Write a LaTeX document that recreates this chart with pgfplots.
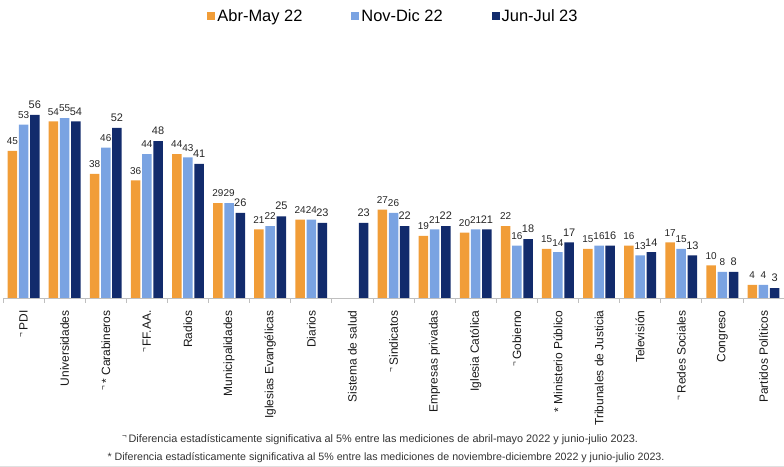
\documentclass[border=0pt]{standalone}
\usepackage{fontspec}
\setmainfont{Liberation Sans}
\usepackage{pgfplots}
\pgfplotsset{compat=1.18}
\definecolor{cOr}{RGB}{241,157,56}
\definecolor{cLb}{RGB}{122,163,226}
\definecolor{cNv}{RGB}{18,43,108}
\newcommand{\sig}{\raisebox{0.38em}{\fontsize{8}{8}\selectfont ¬}\,}

\begin{document}
\begin{tikzpicture}
\useasboundingbox (0,0) rectangle (784bp,467bp);
\begin{axis}[
    at={(3bp,169bp)}, anchor=south west,
    scale only axis, width=781bp, height=238bp,
    xmin=-0.5, xmax=18.5, ymin=0, ymax=72.8,
    ybar=1.7bp, bar width=9.5bp,
    axis x line=bottom, axis y line=none,
    x axis line style={-, draw=black!25, line width=0.8bp},
    xtick={0,...,18},
    minor xtick={-0.5,0.5,...,18.5},
    major x tick style={draw=none},
    minor x tick style={draw=black!25, line width=0.8bp},
    minor tick length=5bp, tick align=outside,
    xticklabels={\sig PDI, Universidades, \sig * Carabineros, \sig FF.AA., Radios,
        Municipalidades, Iglesias Evangélicas, Diarios, Sistema de salud, \sig Sindicatos,
        Empresas privadas, Iglesia Católica, \sig Gobierno, * Ministerio Público,
        Tribunales de Justicia, Televisión, \sig Redes Sociales, Congreso, Partidos Políticos},
    x tick label style={rotate=90, anchor=east, inner sep=0pt, font=\fontsize{12}{14}\selectfont, text=black!90},
    xticklabel shift=8bp,
    nodes near coords,
    every node near coord/.append style={font=\fontsize{10}{12}\selectfont, text=black!85, inner sep=0pt, yshift=6bp},
    /pgf/number format/assume math mode=true,
    legend style={at={(0.5,1)}, anchor=center, yshift=44bp, draw=none, fill=none,
        legend columns=3, font=\fontsize{16.5}{18}\selectfont,
        /tikz/every odd column/.append style={column sep=0bp},
        /tikz/every even column/.append style={column sep=47bp}},
    legend image code/.code={\fill[#1] (0bp,-4bp) rectangle (8bp,4bp);},
]
\addplot[fill=cOr, draw=none] coordinates {
    (0,45) (1,54) (2,38) (3,36) (4,44) (5,29) (6,21) (7,24)
    (9,27) (10,19) (11,20) (12,22) (13,15) (14,15) (15,16) (16,17) (17,10) (18,4)
};
\addplot[fill=cLb, draw=none] coordinates {
    (0,53) (1,55) (2,46) (3,44) (4,43) (5,29) (6,22) (7,24)
    (9,26) (10,21) (11,21) (12,16) (13,14) (14,16) (15,13) (16,15) (17,8) (18,4)
};
\addplot[fill=cNv, draw=none, every node near coord/.append style={font=\fontsize{11}{12}\selectfont}] coordinates {
    (0,56) (1,54) (2,52) (3,48) (4,41) (5,26) (6,25) (7,23) (8,23)
    (9,22) (10,22) (11,21) (12,18) (13,17) (14,16) (15,14) (16,13) (17,8) (18,3)
};
\legend{Abr-May 22, Nov-Dic 22, Jun-Jul 23}
\end{axis}
\node[font=\fontsize{10.9}{12}\selectfont, text=black!80] at (380bp,27bp)
    {\sig Diferencia estadísticamente significativa al 5\% entre las mediciones de abril-mayo 2022 y junio-julio 2023.};
\node[font=\fontsize{10.7}{12}\selectfont, text=black!80] at (386bp,9bp)
    {* Diferencia estadísticamente significativa al 5\% entre las mediciones de noviembre-diciembre 2022 y junio-julio 2023.};
\draw[black!12, line width=1bp] (0,0.5bp) -- (784bp,0.5bp);
\end{tikzpicture}
\end{document}
